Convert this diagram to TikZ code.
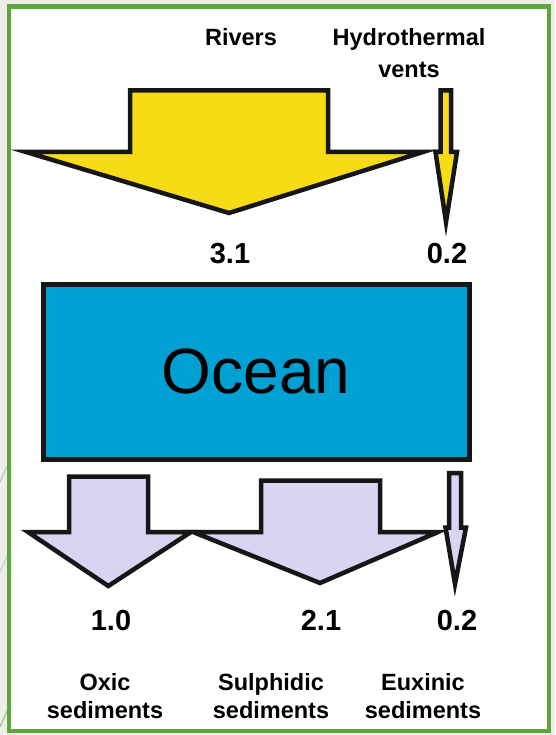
\documentclass[tikz,border=0pt]{standalone}
\usepackage{fontspec}
\setmainfont{Liberation Sans}
\definecolor{bgout}{RGB}{238,237,231}
\definecolor{framegreen}{RGB}{92,166,61}
\definecolor{outline}{RGB}{22,22,22}
\definecolor{arrowyellow}{RGB}{247,219,21}
\definecolor{lavender}{RGB}{216,212,242}
\definecolor{oceanblue}{RGB}{0,160,210}
\begin{document}
\begin{tikzpicture}[x=1pt,y=-1pt,
  outl/.style={draw=outline, line width=4.5pt, line join=miter},
  yarrow/.style={outl, fill=arrowyellow},
  larrow/.style={outl, fill=lavender},
  lbl/.style={font=\bfseries\fontsize{23.5}{32}\selectfont, inner sep=0pt, anchor=north, align=center},
  lblb/.style={lbl, font=\bfseries\fontsize{23.5}{28.5}\selectfont},
  num/.style={font=\bfseries\fontsize{29}{34}\selectfont, inner sep=0pt, anchor=north},
  oceanbox/.style={draw=outline, line width=5pt, fill=oceanblue, minimum width=425.5pt,
    minimum height=175pt, inner sep=0pt, font=\fontsize{64}{70}\selectfont}
]
\useasboundingbox (0,0) rectangle (555,735);
% background outside the frame
\fill[bgout] (0,0) rectangle (555,735);
\begin{scope}
  \clip (0,0) rectangle (7,735);
  \draw[gray!60, line width=0.8pt] (0,482) -- (12,455);
  \draw[gray!45, line width=0.8pt] (0,572) -- (12,545);
  \draw[black!55!green!40, line width=1.2pt] (0,727) -- (12,700);
\end{scope}
% frame
\draw[framegreen, line width=4.3pt, fill=white] (9,6.5) rectangle (549,731);

% Rivers arrow
\draw[yarrow] (130,90.5) -- (328,90.5) -- (328,152) -- (423,152) -- (229,213)
  -- (26,152) -- (130,152) -- cycle;
% Hydrothermal vents arrow
\draw[yarrow] (440.5,90.5) -- (451,90.5) -- (451,152) -- (457,152) -- (446,222)
  -- (435.5,152) -- (440.5,152) -- cycle;

% Ocean
\node[oceanbox] (ocean) at (256.25,371.5) {Ocean};

% Oxic sediments arrow
\draw[larrow] (69,476.5) -- (148,476.5) -- (148,532) -- (191,532) -- (108.3,586)
  -- (28,532) -- (69,532) -- cycle;
% Sulphidic sediments arrow
\draw[larrow] (261,480.5) -- (380,480.5) -- (380,532) -- (438,532) -- (320,583)
  -- (193,532) -- (261,532) -- cycle;
% Euxinic sediments arrow
\draw[larrow] (449,473) -- (461,473) -- (461,527.5) -- (466,527.5) -- (455,584)
  -- (445.5,527.5) -- (449,527.5) -- cycle;

% top labels
\node[lbl] (rivers) at (241,28) {Rivers};
\node[lbl] (vents) at (409,28) {Hydrothermal\\vents};
\node[num] (n31) at (230,243) {3.1};
\node[num] (n02a) at (447,243) {0.2};

% bottom numbers
\node[num] (n10) at (111,610) {1.0};
\node[num] (n21) at (321,610) {2.1};
\node[num] (n02b) at (457,610) {0.2};

% bottom labels
\node[lblb] (oxic) at (105,673) {Oxic\\sediments};
\node[lblb] (sulph) at (271,673) {Sulphidic\\sediments};
\node[lblb] (eux) at (423,673) {Euxinic\\sediments};
\end{tikzpicture}
\end{document}
